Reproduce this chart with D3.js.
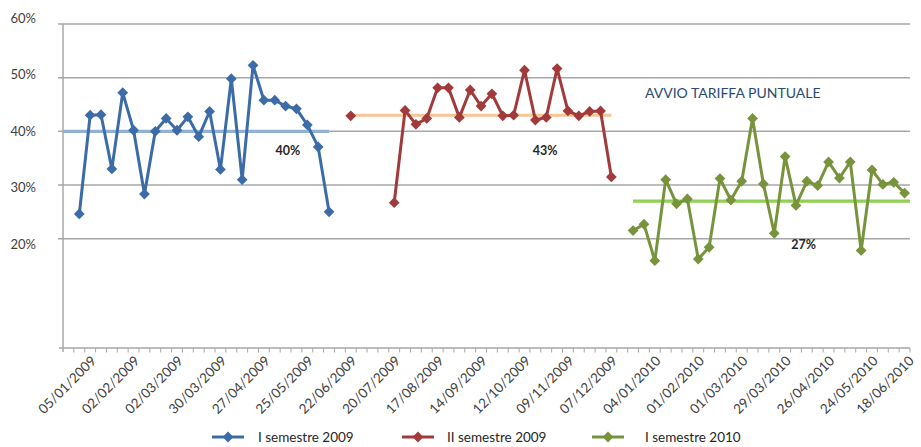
<!DOCTYPE html>
<html>
<head>
<meta charset="utf-8">
<script src="https://cdn.jsdelivr.net/npm/d3@7/dist/d3.min.js"></script>
<style>
  html, body { margin: 0; padding: 0; background: #ffffff; }
  svg { display: block; font-family: Lato, "Open Sans", "Liberation Sans", sans-serif; }
</style>
</head>
<body>
<svg id="chart" width="921" height="447"></svg>
<script>
// Weekly categories (Mondays, last one a Friday)
const dates = [
  "05/01/2009","12/01/2009","19/01/2009","26/01/2009","02/02/2009","09/02/2009","16/02/2009","23/02/2009",
  "02/03/2009","09/03/2009","16/03/2009","23/03/2009","30/03/2009","06/04/2009","13/04/2009","20/04/2009",
  "27/04/2009","04/05/2009","11/05/2009","18/05/2009","25/05/2009","01/06/2009","08/06/2009","15/06/2009",
  "22/06/2009","29/06/2009","06/07/2009","13/07/2009","20/07/2009","27/07/2009","03/08/2009","10/08/2009",
  "17/08/2009","24/08/2009","31/08/2009","07/09/2009","14/09/2009","21/09/2009","28/09/2009","05/10/2009",
  "12/10/2009","19/10/2009","26/10/2009","02/11/2009","09/11/2009","16/11/2009","23/11/2009","30/11/2009",
  "07/12/2009","14/12/2009","21/12/2009","28/12/2009","04/01/2010","11/01/2010","18/01/2010","25/01/2010",
  "01/02/2010","08/02/2010","15/02/2010","22/02/2010","01/03/2010","08/03/2010","15/03/2010","22/03/2010",
  "29/03/2010","05/04/2010","12/04/2010","19/04/2010","26/04/2010","03/05/2010","10/05/2010","17/05/2010",
  "24/05/2010","31/05/2010","07/06/2010","14/06/2010","18/06/2010"
];

// Dates shown under the axis
const tickLabels = [
  "05/01/2009","02/02/2009","02/03/2009","30/03/2009","27/04/2009","25/05/2009","22/06/2009",
  "20/07/2009","17/08/2009","14/09/2009","12/10/2009","09/11/2009","07/12/2009","04/01/2010",
  "01/02/2010","01/03/2010","29/03/2010","26/04/2010","24/05/2010","18/06/2010"
];

const yTicks = [0.2, 0.3, 0.4, 0.5, 0.6];

const seriesNames = ["I semestre 2009", "II semestre 2009", "I semestre 2010"];

const _ = null;
const sem1_2009 = [
  0.246, 0.430, 0.431, 0.330, 0.472, 0.402, 0.283, 0.400, 0.424, 0.402, 0.427, 0.390,
  0.437, 0.329, 0.498, 0.310, 0.523, 0.458, 0.458, 0.447, 0.442, 0.412, 0.371, 0.250,
  _, _, _, _, _, _, _, _, _, _, _, _, _, _, _, _, _, _, _, _, _, _, _, _, _, _, _, _, _,
  _, _, _, _, _, _, _, _, _, _, _, _, _, _, _, _, _, _, _, _, _, _, _, _, _, _, _, _
];
const sem2_2009 = [
  _, _, _, _, _, _, _, _, _, _, _, _, _, _, _, _, _, _, _, _, _, _, _, _, _,
  0.429, _, _, _, 0.267, 0.439, 0.413, 0.424, 0.481, 0.481, 0.426, 0.477, 0.447, 0.470,
  0.429, 0.430, 0.514, 0.421, 0.426, 0.517, 0.438, 0.429, 0.437, 0.438, 0.315,
  _, _, _, _, _, _, _, _, _, _, _, _, _, _, _, _, _, _, _, _, _, _, _, _, _, _, _
];
const sem1_2010 = [
  _, _, _, _, _, _, _, _, _, _, _, _, _, _, _, _, _, _, _, _, _, _, _, _, _,
  _, _, _, _, _, _, _, _, _, _, _, _, _, _, _, _, _, _, _, _, _, _, _, _, _, _,
  0.215, 0.227, 0.159, 0.310, 0.265, 0.274, 0.162, 0.184, 0.312, 0.272, 0.307, 0.424,
  0.302, 0.210, 0.353, 0.262, 0.307, 0.299, 0.343, 0.313, 0.343, 0.178, 0.328, 0.301,
  0.305, 0.285
];

// Semester averages and their labels
const averages = [0.40, 0.43, 0.27];

const colors = ["#3c6ca8", "#a23a3b", "#77933c"];
const avgColors = ["#93b1d3", "#f8c593", "#92cf55"];

const svg = d3.select("#chart");

const plotL = 63, plotR = 910, plotTop = 24, axisY = 348;
const slots = dates.length + 1; // one empty slot before the first week
const step = (plotR - plotL) / slots;

const x = d3.scaleBand().domain(dates).range([plotL + step, plotR]).paddingInner(0).paddingOuter(0);
const cx = i => x(dates[i]) + x.bandwidth() / 2;

const y = d3.scaleLinear().domain([0, 0.6]).range([346, plotTop]);
const yLabel = d3.scaleLinear().domain([0.2, 0.6]).range([244, 18]);

// Horizontal gridlines with outward tick stubs
svg.append("g").selectAll("line").data(yTicks).join("line")
  .attr("x1", plotL - 5).attr("x2", plotR)
  .attr("y1", d => y(d)).attr("y2", d => y(d))
  .attr("stroke", "#a7a7a7").attr("stroke-width", 1.5);

// Y axis labels
const yAxis = d3.axisLeft(yLabel).tickValues(yTicks).tickFormat(d3.format(".0%")).tickSize(0).tickPadding(0);
const gy = svg.append("g").attr("transform", "translate(36,0)").call(yAxis);
gy.select(".domain").remove();
gy.selectAll("text").attr("font-family", "Lato, sans-serif").attr("font-size", 13).attr("fill", "#404040");

// Axis lines
svg.append("line").attr("x1", plotL).attr("x2", plotL).attr("y1", plotTop).attr("y2", axisY + 4)
  .attr("stroke", "#a7a7a7").attr("stroke-width", 1.5);
svg.append("line").attr("x1", plotL - 4).attr("x2", plotR).attr("y1", axisY).attr("y2", axisY)
  .attr("stroke", "#a7a7a7").attr("stroke-width", 1.5);

// Category boundary ticks
const boundaries = dates.map(d => x(d)).concat([plotR]);
svg.append("g").selectAll("line").data(boundaries).join("line")
  .attr("x1", d => d).attr("x2", d => d)
  .attr("y1", axisY).attr("y2", axisY + 4.5)
  .attr("stroke", "#a7a7a7").attr("stroke-width", 1);

// X axis labels, rotated
const xAxis = d3.axisBottom(x).tickValues(tickLabels).tickSize(0);
const gx = svg.append("g").attr("transform", `translate(0,${axisY})`).call(xAxis);
gx.select(".domain").remove();
gx.selectAll(".tick text")
  .attr("font-family", "Lato, sans-serif").attr("font-size", 13.5).attr("fill", "#404040")
  .attr("x", 0).attr("y", 0).attr("dy", "0.35em")
  .attr("text-anchor", "end")
  .attr("transform", function(d) {
    const center = x(d) + x.bandwidth() / 2;
    let dx = 14.3;
    if (center + dx > 911.5) dx = 911.5 - center; // keep the last label inside the frame
    return `translate(${dx},10.4) rotate(-45)`;
  });

// Average lines
const allSeries = [sem1_2009, sem2_2009, sem1_2010];
allSeries.forEach((s, k) => {
  const idx = s.map((v, i) => v == null ? -1 : i).filter(i => i >= 0);
  let x1 = cx(idx[0]), x2 = cx(idx[idx.length - 1]);
  if (k === 0) x1 = plotL;
  if (k === allSeries.length - 1) x2 = plotR;
  svg.append("line")
    .attr("x1", x1).attr("x2", x2)
    .attr("y1", y(averages[k])).attr("y2", y(averages[k]))
    .attr("stroke", avgColors[k]).attr("stroke-width", 3.2);
});

// Series lines and diamond markers
const line = d3.line().defined(d => d.v != null).x(d => cx(d.i)).y(d => y(d.v));
const diamond = d3.symbol().type(d3.symbolSquare).size(58);
allSeries.forEach((s, k) => {
  const pts = s.map((v, i) => ({ i, v }));
  svg.append("path").datum(pts)
    .attr("d", line).attr("fill", "none")
    .attr("stroke", colors[k]).attr("stroke-width", 3).attr("stroke-linejoin", "round");
  svg.append("g").selectAll("path").data(pts.filter(d => d.v != null)).join("path")
    .attr("d", diamond)
    .attr("transform", d => `translate(${cx(d.i)},${y(d.v)}) rotate(45)`)
    .attr("fill", colors[k]);
});

// Average labels
const avgLabelPos = [{ at: 19.2, dy: 19.4 }, { at: 42.9, dy: 35.5 }, { at: 66.7, dy: 43.3 }];
averages.forEach((a, k) => {
  const p = avgLabelPos[k];
  svg.append("text")
    .attr("x", cx(0) + p.at * x.bandwidth()).attr("y", y(a) + p.dy)
    .attr("dy", "0.35em").attr("text-anchor", "middle")
    .attr("font-family", "Lato, sans-serif").attr("font-weight", "bold").attr("font-size", 12.5)
    .attr("fill", "#262626")
    .text(d3.format(".0%")(a));
});

// Annotation
svg.append("text")
  .attr("x", 645).attr("y", 93).attr("dy", "0.35em")
  .attr("font-family", "Lato, sans-serif").attr("font-size", 14).attr("fill", "#2a4a72")
  .text("AVVIO TARIFFA PUNTUALE");

// Legend
const legendX = [212, 402, 592];
const legendTextX = [258, 447, 645];
const legendY = 437;
seriesNames.forEach((n, k) => {
  const g = svg.append("g");
  g.append("line").attr("x1", legendX[k]).attr("x2", legendX[k] + 32)
    .attr("y1", legendY).attr("y2", legendY)
    .attr("stroke", colors[k]).attr("stroke-width", 3);
  g.append("path").attr("d", diamond)
    .attr("transform", `translate(${legendX[k] + 16},${legendY}) rotate(45)`)
    .attr("fill", colors[k]);
  g.append("text").attr("x", legendTextX[k]).attr("y", legendY).attr("dy", "0.35em")
    .attr("font-family", "Lato, sans-serif").attr("font-size", 13.5).attr("fill", "#262626")
    .text(n);
});
</script>
</body>
</html>
